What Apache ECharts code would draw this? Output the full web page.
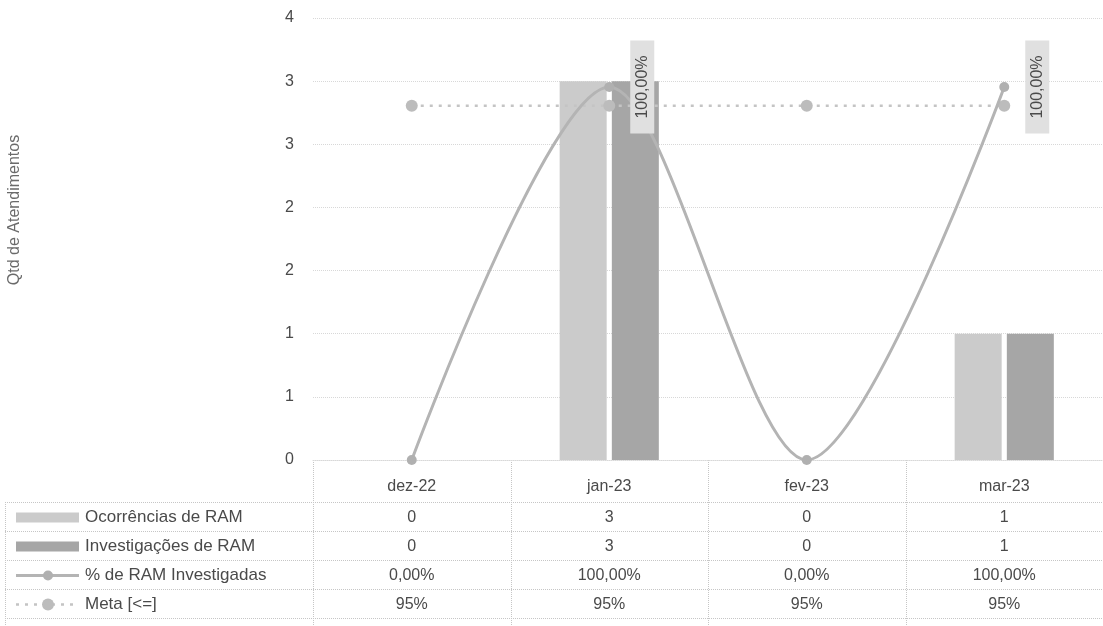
<!DOCTYPE html>
<html>
<head>
<meta charset="utf-8">
<script src="https://cdn.jsdelivr.net/npm/echarts@6/dist/echarts.min.js"></script>
<style>
html,body{margin:0;padding:0;background:#fff;}
#c{width:1103px;height:626px;}
</style>
</head>
<body>
<div id="c"></div>
<script>
const categories = ['dez-22', 'jan-23', 'fev-23', 'mar-23'];
const ocorrencias = [0, 3, 0, 1];
const investigacoes = [0, 3, 0, 1];
const pctInvestigadas = [0, 1, 0, 1];
const meta = [0.95, 0.95, 0.95, 0.95];
const yTickLabels = ['0', '1', '1', '2', '2', '3', '3', '4'];
const seriesNames = ['Ocorrências de RAM', 'Investigações de RAM', '% de RAM Investigadas', 'Meta [<=]'];
const yAxisTitle = 'Qtd de Atendimentos';

const FONT = '"Liberation Sans", Arial, sans-serif';
const TXT = '#4a4a4a';
const C_OC = '#cbcbcb';
const C_INV = '#a6a6a6';
const C_PCT = '#b4b4b4';
const C_META = '#c4c4c4';
const GRIDC = '#d8d8d8';

const chart = echarts.init(document.getElementById('c'), null, {renderer: 'canvas'});

function fmtPct(v) { return (v * 100).toFixed(2).replace('.', ',') + '%'; }
function fmtMeta(v) { return Math.round(v * 100) + '%'; }

const pctData = pctInvestigadas.map(function (v) {
  return {value: v, label: {show: v > 0}};
});

const option = {
  backgroundColor: '#fff',
  animation: false,
  textStyle: {fontFamily: FONT},
  grid: {left: 313, right: -4, top: 18, bottom: 166},
  xAxis: {
    type: 'category',
    data: categories,
    axisLine: {show: true, lineStyle: {color: GRIDC, type: 'dotted'}},
    axisTick: {show: false},
    axisLabel: {show: false}
  },
  yAxis: [{
    type: 'value',
    min: 0, max: 3.5, interval: 0.5,
    axisLine: {show: false},
    axisTick: {show: false},
    axisLabel: {
      margin: 19, color: TXT, fontSize: 16, fontFamily: FONT,
      formatter: function (v) { return yTickLabels[Math.round(v / 0.5)]; }
    },
    splitLine: {lineStyle: {color: GRIDC, type: 'dotted', width: 1}}
  }, {
    type: 'value',
    min: 0, max: 1.185,
    show: false,
    splitLine: {show: false}
  }],
  series: [{
    name: seriesNames[0],
    type: 'bar',
    data: ocorrencias,
    barWidth: 47,
    barGap: '11%',
    itemStyle: {color: C_OC},
    z: 2
  }, {
    name: seriesNames[1],
    type: 'bar',
    data: investigacoes,
    barWidth: 47,
    itemStyle: {color: C_INV},
    z: 2
  }, {
    name: seriesNames[3],
    type: 'line',
    yAxisIndex: 1,
    data: meta,
    symbol: 'circle',
    symbolSize: 12,
    itemStyle: {color: '#bcbcbc'},
    lineStyle: {color: C_META, width: 2.5, type: [3, 6]},
    z: 3
  }, {
    name: seriesNames[2],
    type: 'line',
    yAxisIndex: 1,
    data: pctData,
    smooth: 0.3,
    symbol: 'circle',
    symbolSize: 10,
    itemStyle: {color: '#b0b0b0'},
    lineStyle: {color: C_PCT, width: 3},
    label: {
      position: 'right',
      distance: 28,
      rotate: 90,
      align: 'center',
      verticalAlign: 'middle',
      fontSize: 16,
      fontFamily: FONT,
      color: TXT,
      backgroundColor: '#e0e0e0',
      padding: [4, 15, 4, 15],
      formatter: function (p) { return fmtPct(p.value); }
    },
    z: 4
  }],
  graphic: []
};
chart.setOption(option);

// data table below the plot
const colCenters = categories.map(function (c) { return chart.convertToPixel({xAxisIndex: 0}, c); });
const colW = colCenters.length > 1 ? colCenters[1] - colCenters[0] : 198;
const plotLeft = colCenters[0] - colW / 2;
const tableRight = 1103;
const headerY = 487;
const rowH = 29;
const rowTop0 = 502;
const rowsVals = [
  ocorrencias.map(String),
  investigacoes.map(String),
  pctInvestigadas.map(fmtPct),
  meta.map(fmtMeta)
];
const g = [];
const lineStyle = {stroke: '#c6c6c6', lineWidth: 1, lineDash: [1, 1]};
for (let i = 0; i <= categories.length; i++) {
  const x = Math.round(plotLeft + i * colW) + 0.5;
  g.push({type: 'line', shape: {x1: x, y1: 460, x2: x, y2: 626}, style: lineStyle, silent: true});
}
g.push({type: 'line', shape: {x1: 5.5, y1: rowTop0, x2: 5.5, y2: 626}, style: lineStyle, silent: true});
for (let r = 0; r <= rowsVals.length; r++) {
  const y = rowTop0 + r * rowH + 0.5;
  g.push({type: 'line', shape: {x1: 5, y1: y, x2: tableRight, y2: y}, style: lineStyle, silent: true});
}
categories.forEach(function (c, i) {
  g.push({type: 'text', x: colCenters[i], y: headerY, style: {text: c, fill: TXT, font: '16px ' + FONT, textAlign: 'center', textVerticalAlign: 'middle'}, silent: true});
});
rowsVals.forEach(function (vals, r) {
  const cy = rowTop0 + r * rowH + rowH / 2 + 1;
  vals.forEach(function (v, i) {
    g.push({type: 'text', x: colCenters[i], y: cy, style: {text: v, fill: TXT, font: '16px ' + FONT, textAlign: 'center', textVerticalAlign: 'middle'}, silent: true});
  });
  g.push({type: 'text', x: 85, y: cy, style: {text: seriesNames[r], fill: TXT, font: '17px ' + FONT, textAlign: 'left', textVerticalAlign: 'middle'}, silent: true});
  if (r === 0) {
    g.push({type: 'rect', shape: {x: 16, y: cy - 5, width: 63, height: 10}, style: {fill: C_OC}, silent: true});
  } else if (r === 1) {
    g.push({type: 'rect', shape: {x: 16, y: cy - 5, width: 63, height: 10}, style: {fill: C_INV}, silent: true});
  } else if (r === 2) {
    g.push({type: 'line', shape: {x1: 16, y1: cy, x2: 79, y2: cy}, style: {stroke: C_PCT, lineWidth: 3}, silent: true});
    g.push({type: 'circle', shape: {cx: 48, cy: cy, r: 5}, style: {fill: '#b0b0b0'}, silent: true});
  } else {
    g.push({type: 'line', shape: {x1: 16, y1: cy, x2: 79, y2: cy}, style: {stroke: C_META, lineWidth: 2.5, lineDash: [3, 6]}, silent: true});
    g.push({type: 'circle', shape: {cx: 48, cy: cy, r: 6}, style: {fill: '#bcbcbc'}, silent: true});
  }
});
g.push({type: 'text', x: 15, y: 210, rotation: Math.PI / 2, style: {text: yAxisTitle, fill: '#6a6a6a', font: '16px ' + FONT, textAlign: 'center', textVerticalAlign: 'middle'}, silent: true});
chart.setOption({graphic: g});
</script>
</body>
</html>
